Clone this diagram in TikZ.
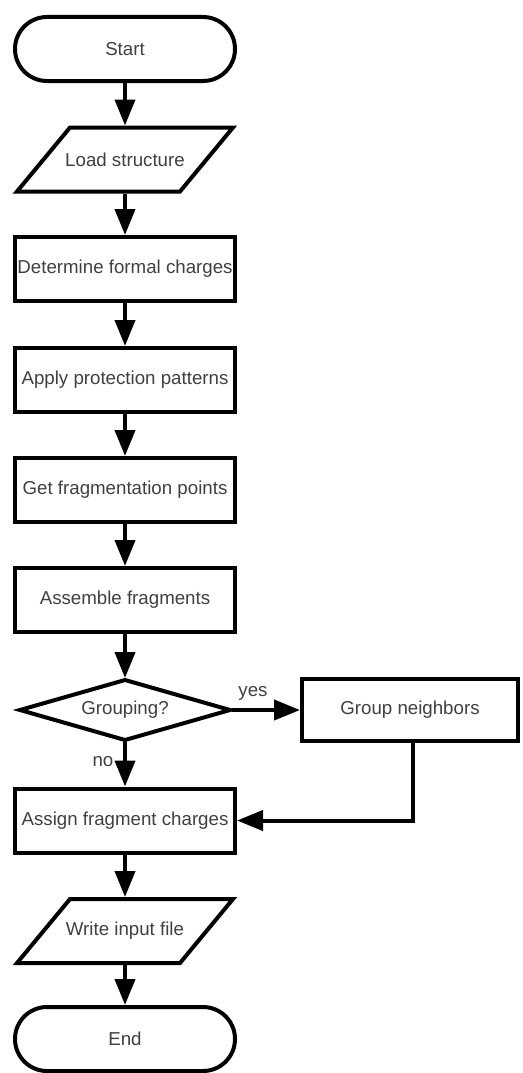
\documentclass[tikz,border=0pt]{standalone}
\usepackage{fontspec}
\setmainfont{Liberation Sans}
\usetikzlibrary{arrows.meta,calc}
\definecolor{txt}{HTML}{404040}
\begin{document}
\begin{tikzpicture}[x=1pt,y=-1pt,
  base/.style={font=\fontsize{18.7}{22}\selectfont, text=txt, line width=4pt, inner sep=0pt, outer sep=2pt},
  proc/.style={base, draw, rectangle, minimum width=220pt, minimum height=64pt},
  term/.style={base, draw, rectangle, rounded corners=32pt, minimum width=220pt, minimum height=64pt},
  io/.style={base, minimum width=216pt, minimum height=64pt},
  dec/.style={base, minimum width=210pt, minimum height=60pt},
  shapeline/.style={line width=4pt, line join=miter},
  flow/.style={line width=4pt, -{Triangle[width=20pt,length=26pt]}},
  lbl/.style={font=\fontsize{18.7}{22}\selectfont, text=txt, inner sep=0pt}]
\fill[white] (0,0) rectangle (522,1073);
\useasboundingbox (0,0) rectangle (522,1073);

\node[term] (start) at (125,49) {Start};
\node[io] (load) at (125,159.5) {Load structure};
\node[proc] (det) at (125,269) {Determine formal charges};
\node[proc] (prot) at (125,380) {Apply protection patterns};
\node[proc] (frag) at (125,490) {Get fragmentation points};
\node[proc] (asm) at (125,600) {Assemble fragments};
\node[dec] (grp) at (125,710) {Grouping?};
\node[proc, minimum width=216pt, minimum height=62pt] (nbr) at (410,710) {Group neighbors};
\node[proc] (chg) at (125,820.5) {Assign fragment charges};
\node[io] (write) at (125,931) {Write input file};
\node[term] (end) at (125,1039) {End};

% parallelograms
\draw[shapeline] ($(load.center)+(-55,-32)$) -- ($(load.center)+(108,-32)$) -- ($(load.center)+(55,32)$) -- ($(load.center)+(-108,32)$) -- cycle;
\draw[shapeline] ($(write.center)+(-55,-32)$) -- ($(write.center)+(108,-32)$) -- ($(write.center)+(55,32)$) -- ($(write.center)+(-108,32)$) -- cycle;
% diamond
\draw[shapeline] ($(grp.center)+(-105,0)$) -- ($(grp.center)+(0,-30)$) -- ($(grp.center)+(105,0)$) -- ($(grp.center)+(0,30)$) -- cycle;

\draw[flow] (start) -- (load);
\draw[flow] (load) -- (det);
\draw[flow] (det) -- (prot);
\draw[flow] (prot) -- (frag);
\draw[flow] (frag) -- (asm);
\draw[flow] (asm) -- (grp);
\draw[flow] (grp.east) -- (nbr.west);
\draw[flow] (grp.south) -- (chg.north);
\draw[flow] ([xshift=3pt]nbr.south) |- (chg.east);
\draw[flow] (chg) -- (write);
\draw[flow] (write) -- (end);

\node[lbl] (yes) at (253,693) {yes};
\node[lbl] (no) at (103,762) {no};
\end{tikzpicture}
\end{document}
